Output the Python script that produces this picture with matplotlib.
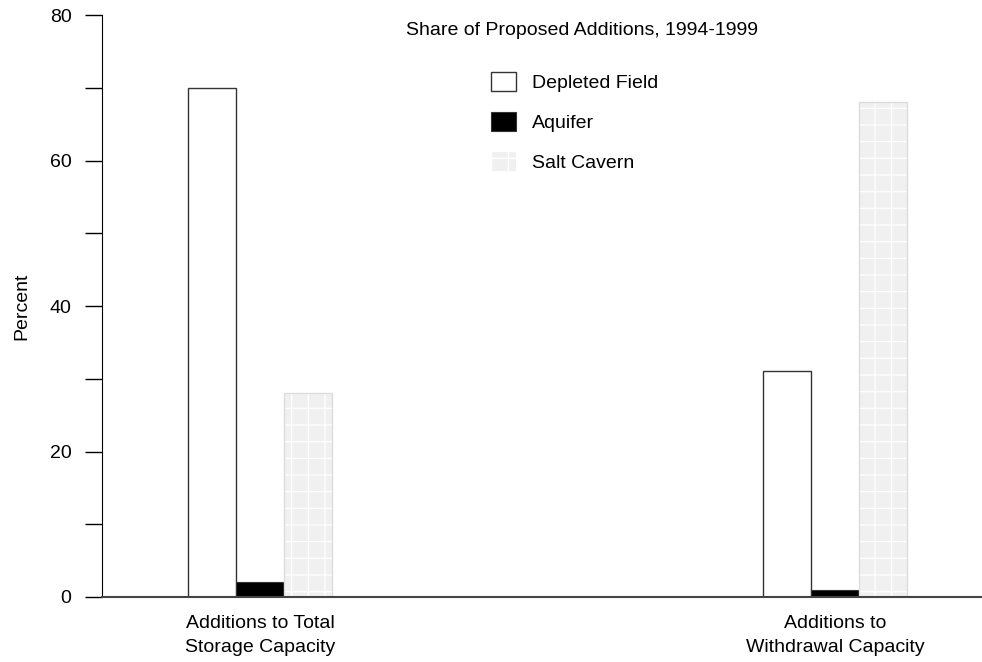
import matplotlib
matplotlib.use("Agg")
import matplotlib.pyplot as plt
import numpy as np

# data
categories = ["Additions to Total\nStorage Capacity", "Additions to\nWithdrawal Capacity"]
depleted_field = [70, 31]
aquifer = [2, 1]
salt_cavern = [28, 68]

plt.rcParams['font.family'] = ['Liberation Sans', 'DejaVu Sans']
plt.rcParams['hatch.linewidth'] = 0.9

fig = plt.figure(figsize=(9.82, 6.62), dpi=100)
ax = fig.add_axes([0.1039, 0.0982, 0.8961, 0.8791])

x = np.arange(len(categories))
w = 0.0835

ax.bar(x - w, depleted_field, w, color='white', edgecolor='#333333', linewidth=1, label='Depleted Field')
ax.bar(x, aquifer, w, color='black', edgecolor='#333333', linewidth=0.8, label='Aquifer')
# salt cavern: light fill with faint white grid, plus thin grey outline
ax.bar(x + w, salt_cavern, w, color='#f0f0f0', edgecolor='white', linewidth=0,
       hatch='+', label='Salt Cavern')
ax.bar(x + w, salt_cavern, w, fill=False, edgecolor='#dcdcdc', linewidth=1)

ax.set_xlim(-0.2748, 1.2557)
ax.set_ylim(0, 80)
ax.set_yticks([0, 20, 40, 60, 80])
ax.set_yticks([10, 30, 50, 70], minor=True)
ax.tick_params(axis='y', which='both', direction='out', length=12, width=1, labelsize=14, pad=10)
ax.set_xticks(x)
ax.set_xticklabels(categories, fontsize=14, linespacing=1.55)
ax.tick_params(axis='x', length=0, pad=13)

ax.spines['top'].set_visible(False)
ax.spines['right'].set_visible(False)
ax.spines['bottom'].set_color('#444444')
ax.spines['bottom'].set_linewidth(1.5)

ax.set_ylabel('Percent', fontsize=14, labelpad=14)

fig.text(0.593, 0.9535, 'Share of Proposed Additions, 1994-1999', ha='center', va='center', fontsize=14)

ax.legend(loc='upper left', bbox_to_anchor=(0.5, 0.891), bbox_transform=fig.transFigure,
          frameon=False, fontsize=14, handlelength=1.3, handleheight=1.15,
          labelspacing=1.0, handletextpad=0.8, borderaxespad=0, borderpad=0)

fig.savefig('out.png', dpi=100)
